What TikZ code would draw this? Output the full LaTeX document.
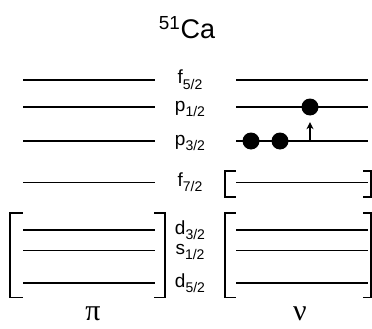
\documentclass[tikz,border=0pt]{standalone}
\usepackage{fontspec}
\setmainfont{Liberation Sans}
\newfontfamily\greekfont{Liberation Serif}
\usetikzlibrary{arrows.meta}
\newcommand{\orbsub}[1]{\raisebox{-0.28em}{\fontsize{14}{14}\selectfont #1}}
\tikzset{
  level/.style={line width=1.5pt},
  brk/.style={line width=1.5pt, line cap=rect},
  orbit/.style={anchor=base, inner sep=0pt, font=\fontsize{19}{19}\selectfont},
  electron/.style={circle, fill=black, inner sep=0pt, minimum size=17pt},
  side/.style={inner sep=0pt, font=\greekfont\fontsize{30}{30}\selectfont},
}

\begin{document}
\begin{tikzpicture}[x=1pt, y=-1pt]
  \useasboundingbox (0,0) rectangle (372,329);

  % nucleus
  \node[font=\fontsize{27}{27}\selectfont] (title) at (187,28) {\textsuperscript{51}Ca};

  % levels, proton side and neutron side
  \foreach \ypos in {80, 107, 141, 182.5, 230, 250.5, 283} {
    \draw[level] (23,\ypos) -- (155,\ypos);
    \draw[level] (236,\ypos) -- (368,\ypos);
  }

  % orbit labels
  \node[orbit] (f52) at (190,84) {f\orbsub{5/2}};
  \node[orbit] (p12) at (190,111) {p\orbsub{1/2}};
  \node[orbit] (p32) at (190,145) {p\orbsub{3/2}};
  \node[orbit] (f72) at (190,186.5) {f\orbsub{7/2}};
  \node[orbit] (d32) at (190,234) {d\orbsub{3/2}};
  \node[orbit] (s12) at (190,254.5) {s\orbsub{1/2}};
  \node[orbit] (d52) at (190,287) {d\orbsub{5/2}};

  % closed shells
  \draw[brk] (22,213) -- (10,213) -- (10,297.5) -- (22,297.5);
  \draw[brk] (155,213) -- (165,213) -- (165,297.5) -- (155,297.5);
  \draw[brk] (235,171) -- (225,171) -- (225,197) -- (235,197);
  \draw[brk] (364,171) -- (371,171) -- (371,197) -- (364,197);
  \draw[brk] (235,213) -- (225,213) -- (225,297.5) -- (235,297.5);
  \draw[brk] (364,213) -- (371,213) -- (371,297.5) -- (364,297.5);

  % valence neutrons
  \node[electron] (n1) at (251,141) {};
  \node[electron] (n2) at (280,141) {};
  \node[electron] (n3) at (310,107) {};
  \coordinate (hole) at (310,141);
  \draw[line width=1.4pt, -{Stealth[length=7pt, width=7pt]}] (hole) -- ([yshift=-6.5pt]n3.south);

  % proton / neutron
  \node[side] (pi) at (93,314) {π};
  \node[side] (nu) at (300,314) {ν};
\end{tikzpicture}
\end{document}
